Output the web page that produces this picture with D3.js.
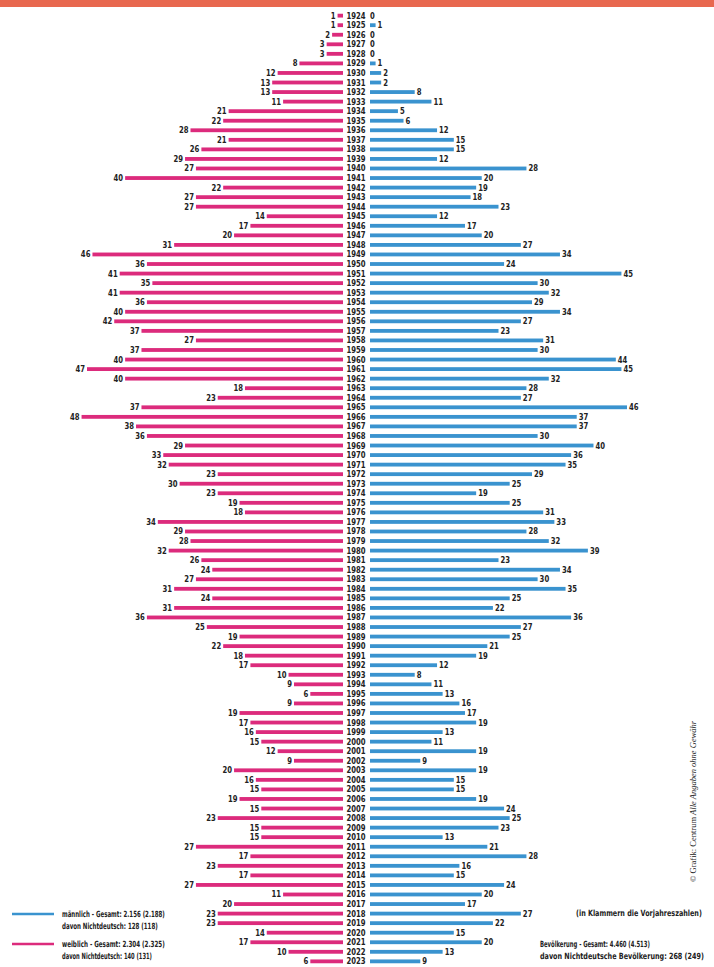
<!DOCTYPE html>
<html>
<head>
<meta charset="utf-8">
<title>Bevölkerung nach Geburtsjahrgängen</title>
<script src="https://cdn.jsdelivr.net/npm/d3@7"></script>
<style>
body{margin:0;background:#fff;}
text{font-family:"Liberation Sans Narrow","DejaVu Sans Condensed",sans-serif;font-weight:bold;fill:#222;}
.yr{font-size:9px;text-anchor:middle;}
.val{font-size:9px;}
.leg{font-size:8.5px;}
</style>
</head>
<body>
<script>
// Geburtsjahrgänge 1924 - 2023
var years = d3.range(1924, 2024);

var weiblich = [
 1,1,2,3,3,8,12,13,13,11,
 21,22,28,21,26,29,27,40,22,27,
 27,14,17,20,31,46,36,41,35,41,
 36,40,42,37,27,37,40,47,40,18,
 23,37,48,38,36,29,33,32,23,30,
 23,19,18,34,29,28,32,26,24,27,
 31,24,31,36,25,19,22,18,17,10,
 9,6,9,19,17,16,15,12,9,20,
 16,15,19,15,23,15,15,27,17,23,
 17,27,11,20,23,23,14,17,10,6
];
var maennlich = [
 0,1,0,0,0,1,2,2,8,11,
 5,6,12,15,15,12,28,20,19,18,
 23,12,17,20,27,34,24,45,30,32,
 29,34,27,23,31,30,44,45,32,28,
 27,46,37,37,30,40,36,35,29,25,
 19,25,31,33,28,32,39,23,34,30,
 35,25,22,36,27,25,21,19,12,8,
 11,13,16,17,19,13,11,19,9,19,
 15,15,19,24,25,23,13,21,28,16,
 15,24,20,17,27,22,15,20,13,9
];

var legendM = ["männlich - Gesamt: 2.156 (2.188)", "davon Nichtdeutsch: 128 (118)"];
var legendW = ["weiblich - Gesamt: 2.304 (2.325)", "davon Nichtdeutsch: 140 (131)"];
var infoRight = ["(in Klammern die Vorjahreszahlen)"];
var infoTotal = ["Bevölkerung - Gesamt: 4.460 (4.513)", "davon Nichtdeutsche Bevölkerung: 268 (249)"];

var pink = "#dc2b7c", blue = "#3a93cf";

var W = 714, H = 967;
var svg = d3.select("body").append("svg").attr("width", W).attr("height", H);

// header band
svg.append("rect").attr("x",0).attr("y",0).attr("width",W).attr("height",7).attr("fill","#e8684f");

var y = d3.scaleBand().domain(years).range([8, 969]).padding(0.6);
var cx = 356;
var xL = d3.scaleLinear().domain([0,47]).range([343, 87]);
var xR = d3.scaleLinear().domain([0,46]).range([370, 627]);

var rows = svg.append("g").selectAll("g").data(years).enter().append("g")
	.attr("transform", d=>"translate(0,"+y(d)+")");

rows.append("rect")
	.attr("x", (d,i)=>xL(weiblich[i]))
	.attr("width", (d,i)=>xL(0)-xL(weiblich[i]))
	.attr("height", y.bandwidth())
	.attr("fill", pink);

rows.append("rect")
	.attr("x", xR(0))
	.attr("width", (d,i)=>xR(maennlich[i])-xR(0))
	.attr("height", y.bandwidth())
	.attr("fill", blue);

rows.append("text").attr("class","yr")
	.attr("transform","translate("+cx+","+(y.bandwidth()/2+3)+") scale(0.85,1)").text(d=>d);

rows.append("text").attr("class","val")
	.attr("transform",(d,i)=>"translate("+(xL(weiblich[i])-2)+","+(y.bandwidth()/2+3)+") scale(0.85,1)")
	.attr("text-anchor","end").text((d,i)=>weiblich[i]);

rows.append("text").attr("class","val")
	.attr("transform",(d,i)=>"translate("+(xR(maennlich[i])+(maennlich[i]?2:0))+","+(y.bandwidth()/2+3)+") scale(0.85,1)")
	.attr("text-anchor","start").text((d,i)=>maennlich[i]);

// legend texts, squeezed to the widths seen in the print
function squeeze(sel, x, y0, dy, widths){
	sel.each(function(d,i){
		var t = d3.select(this).attr("x",0).attr("y",0);
		var len = this.getComputedTextLength();
		var s = Math.min(1, widths[i]/len);
		t.attr("transform","translate("+x+","+(y0+i*dy)+") scale("+s+",1)");
	});
}
var leg = svg.append("g");
leg.append("line").attr("x1",12).attr("x2",54).attr("y1",914).attr("y2",914).attr("stroke",blue).attr("stroke-width",2.5);
leg.append("line").attr("x1",12).attr("x2",54).attr("y1",944).attr("y2",944).attr("stroke",pink).attr("stroke-width",2.5);
leg.selectAll(".lm").data(legendM).enter().append("text").attr("class","leg")
	.text(d=>d).call(squeeze,62,917,12,[103,96]);
leg.selectAll(".lw").data(legendW).enter().append("text").attr("class","leg")
	.text(d=>d).call(squeeze,62,947,12,[103,90]);
leg.selectAll(".ir").data(infoRight).enter().append("text").attr("class","leg")
	.text(d=>d).call(squeeze,576,916,0,[126]);
leg.selectAll(".it").data(infoTotal).enter().append("text").attr("class","leg")
	.text(d=>d).call(squeeze,540,947,12,[110,164]);

// credit
var cr = svg.append("text").attr("transform","translate(696,882) rotate(-90)")
	.style("font-size","8.5px").style("font-weight","normal").style("font-family","'Liberation Serif',serif");
cr.append("tspan").text("© Grafik: Centrum   ");
cr.append("tspan").style("font-style","italic").text("Alle Angaben ohne Gewähr");
</script>
</body>
</html>
